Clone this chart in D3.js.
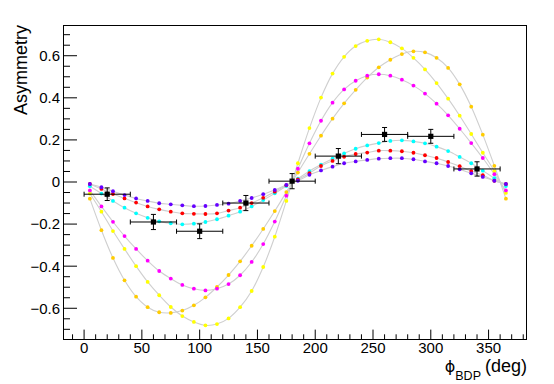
<!DOCTYPE html>
<html><head><meta charset="utf-8">
<script src="https://cdn.jsdelivr.net/npm/d3@7"></script>
<style>body{margin:0;background:#fff}svg{display:block}text{font-family:"Liberation Sans",Arial,sans-serif}</style>
</head><body>
<svg id="c" width="554" height="384"></svg>
<script>
const phi = [5,15,25,35,45,55,65,75,85,95,105,115,125,135,145,155,165,175,185,195,205,215,225,235,245,255,265,275,285,295,305,315,325,335,345,355,365];
const yellowVals = [-0.055,-0.141,-0.233,-0.318,-0.400,-0.475,-0.538,-0.594,-0.637,-0.665,-0.681,-0.675,-0.648,-0.595,-0.518,-0.404,-0.260,-0.090,0.089,0.256,0.401,0.515,0.595,0.646,0.671,0.678,0.664,0.635,0.590,0.535,0.470,0.396,0.315,0.228,0.139,0.052,-0.052];
const goldVals = [-0.079,-0.229,-0.361,-0.467,-0.545,-0.595,-0.619,-0.622,-0.611,-0.586,-0.548,-0.499,-0.442,-0.377,-0.303,-0.223,-0.138,-0.048,0.045,0.134,0.220,0.301,0.374,0.438,0.496,0.545,0.581,0.608,0.621,0.616,0.590,0.542,0.464,0.358,0.225,0.077,-0.079];
const magentaVals = [-0.040,-0.116,-0.189,-0.257,-0.318,-0.374,-0.423,-0.459,-0.489,-0.507,-0.515,-0.507,-0.485,-0.443,-0.380,-0.295,-0.188,-0.065,0.063,0.184,0.291,0.377,0.440,0.481,0.505,0.512,0.505,0.486,0.458,0.420,0.372,0.317,0.253,0.185,0.114,0.037,-0.040];
const cyanVals = [-0.020,-0.055,-0.090,-0.122,-0.149,-0.170,-0.187,-0.196,-0.201,-0.198,-0.190,-0.177,-0.160,-0.141,-0.116,-0.086,-0.054,-0.019,0.016,0.052,0.083,0.111,0.136,0.158,0.174,0.185,0.195,0.198,0.193,0.184,0.168,0.147,0.119,0.089,0.054,0.018,-0.019];
const redVals = [-0.0095,-0.033,-0.057,-0.078,-0.098,-0.116,-0.130,-0.141,-0.149,-0.151,-0.152,-0.149,-0.136,-0.122,-0.100,-0.075,-0.046,-0.015,0.012,0.042,0.076,0.100,0.120,0.133,0.140,0.149,0.149,0.146,0.139,0.127,0.114,0.095,0.075,0.052,0.032,0.006,-0.0095];
const violetVals = [-0.0095,-0.025,-0.044,-0.062,-0.078,-0.090,-0.101,-0.106,-0.111,-0.115,-0.114,-0.109,-0.103,-0.090,-0.076,-0.058,-0.038,-0.014,0.006,0.034,0.055,0.073,0.089,0.098,0.105,0.111,0.113,0.113,0.108,0.098,0.089,0.076,0.060,0.041,0.024,0.006,-0.0095];
const seriesNames = ["yellow","gold","magenta","cyan","red","violet"];
const seriesColors = ["#ffff00","#ffcc00","#ff00ff","#00ffff","#ff0000","#6600ff"];
const seriesValues = [yellowVals,goldVals,magentaVals,cyanVals,redVals,violetVals];

const dataPhi = [20,60,100,140,180,220,260,300,340];
const dataPhiErr = [20,20,20,20,20,20,20,20,20];
const dataAsym = [-0.058,-0.190,-0.234,-0.100,0.004,0.123,0.226,0.217,0.062];
const dataAsymErr = [0.030,0.036,0.035,0.036,0.036,0.036,0.033,0.033,0.034];

const xTicks = [0,50,100,150,200,250,300,350];
const yTicks = [-0.6,-0.4,-0.2,0,0.2,0.4,0.6];

const svg = d3.select("#c");
const L=63,R=527,T=25,B=339;
const x = d3.scaleLinear().domain([-18.25,383.25]).range([L,R]);
const y = d3.scaleLinear().domain([-0.746,0.746]).range([B,T]);

// frame
svg.append("rect").attr("x",L+0.5).attr("y",T+0.5).attr("width",R-L-1).attr("height",B-T)
  .attr("fill","none").attr("stroke","#000").attr("stroke-width",1);

// y ticks
const yMinor = d3.range(-70,71,5).map(d=>d/100);
svg.append("g").selectAll("line").data(yMinor).join("line")
  .attr("x1",L).attr("x2",d=>L+(Math.abs(Math.round(d*100))%20===0?14:7))
  .attr("y1",d=>y(d)).attr("y2",d=>y(d)).attr("stroke","#000").attr("stroke-width",1);
svg.append("g").selectAll("text").data(yTicks).join("text")
  .attr("x",60).attr("y",d=>y(d)).attr("dy","0.36em").attr("text-anchor","end")
  .attr("font-size",15).attr("fill","#000")
  .text(d=>d===0?"0":(d<0?"\u2212":"")+Math.abs(d).toFixed(1));

// x ticks
const xMinor = d3.range(-10,381,10);
svg.append("g").selectAll("line").data(xMinor).join("line")
  .attr("x1",d=>x(d)).attr("x2",d=>x(d))
  .attr("y1",B).attr("y2",d=>B-(d%50===0?9.4:4.7)).attr("stroke","#000").attr("stroke-width",1);
svg.append("g").selectAll("text").data(xTicks).join("text")
  .attr("x",d=>x(d)).attr("y",353).attr("text-anchor","middle")
  .attr("font-size",15).attr("fill","#000").text(d=>d);

// axis titles
svg.append("text").attr("transform",`translate(27,${T}) rotate(-90)`).attr("text-anchor","end")
  .attr("font-size",18).attr("fill","#000").text("Asymmetry");
const xt = svg.append("text").attr("x",R).attr("y",372).attr("text-anchor","end").attr("fill","#000").attr("font-size",18);
xt.append("tspan").attr("font-family","DejaVu Sans").attr("font-size",16).text("\u03D5");
xt.append("tspan").attr("font-size",12.5).attr("dy",8).text("BDP");
xt.append("tspan").attr("dy",-8).attr("dx",4).text("(deg)");

// gray curves
const line = d3.line().x(d=>x(d[0])).y(d=>y(d[1])).curve(d3.curveCatmullRom.alpha(0.5));
const gLines = svg.append("g");
seriesValues.forEach(vals=>{
  gLines.append("path").attr("d",line(phi.map((p,i)=>[p,vals[i]])))
    .attr("fill","none").attr("stroke","#cfcfcf").attr("stroke-width",1.1);
});
// colored points
seriesValues.forEach((vals,si)=>{
  svg.append("g").selectAll("circle").data(phi.map((p,i)=>[p,vals[i]])).join("circle")
    .attr("cx",d=>x(d[0])).attr("cy",d=>y(d[1])).attr("r",1.9).attr("fill",seriesColors[si]);
});

// data points with error bars
const gD = svg.append("g").attr("stroke","#000").attr("stroke-width",1);
dataPhi.forEach((p,i)=>{
  const cx=x(p), cy=y(dataAsym[i]);
  const x0=x(p-dataPhiErr[i]), x1=x(p+dataPhiErr[i]);
  const y0=y(dataAsym[i]-dataAsymErr[i]), y1=y(dataAsym[i]+dataAsymErr[i]);
  gD.append("line").attr("x1",x0).attr("x2",x1).attr("y1",cy).attr("y2",cy);
  gD.append("line").attr("x1",x0).attr("x2",x0).attr("y1",cy-2.5).attr("y2",cy+2.5);
  gD.append("line").attr("x1",x1).attr("x2",x1).attr("y1",cy-2.5).attr("y2",cy+2.5);
  gD.append("line").attr("x1",cx).attr("x2",cx).attr("y1",y0).attr("y2",y1);
  gD.append("line").attr("x1",cx-2.5).attr("x2",cx+2.5).attr("y1",y0).attr("y2",y0);
  gD.append("line").attr("x1",cx-2.5).attr("x2",cx+2.5).attr("y1",y1).attr("y2",y1);
  svg.append("rect").attr("x",cx-2.6).attr("y",cy-2.6).attr("width",5.2).attr("height",5.2).attr("fill","#000");
});
</script>
</body></html>
